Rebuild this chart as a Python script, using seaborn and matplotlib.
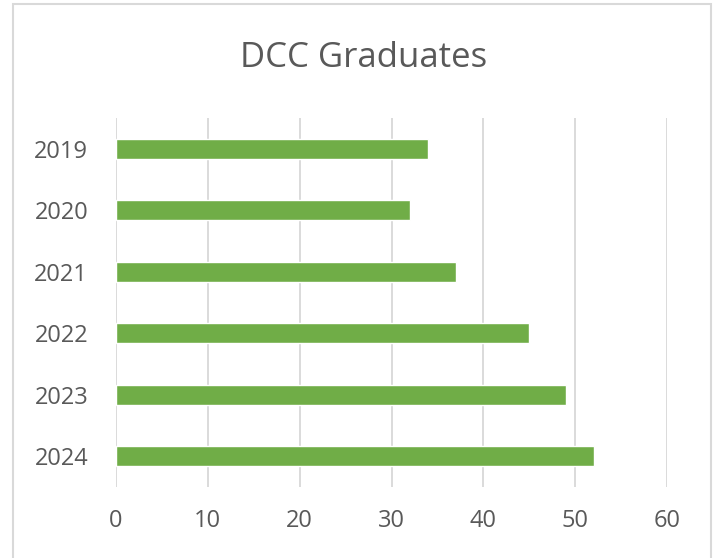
import matplotlib
matplotlib.use("Agg")
import matplotlib.pyplot as plt
import seaborn as sns
import pandas as pd
from matplotlib.patches import Rectangle

years = ["2019", "2020", "2021", "2022", "2023", "2024"]
graduates = [34, 32, 37, 45, 49, 52]
xticks = [0, 10, 20, 30, 40, 50, 60]
title = "DCC Graduates"

sns.set_theme(style="white")
plt.rcParams['font.family'] = ['Open Sans', 'DejaVu Sans']

df = pd.DataFrame({"year": years, "graduates": graduates})

fig = plt.figure(figsize=(7.17, 5.58), dpi=100)
fig.patches.append(Rectangle((13/717, -0.05), 698/717, 1.05 - 4/558, transform=fig.transFigure,
                             fill=False, edgecolor="#d9d9d9", linewidth=1.5))
ax = fig.add_axes([116/717, 1 - 487/558, (667 - 116)/717, (487 - 118)/558])

sns.barplot(data=df, x="graduates", y="year", orient="h", color="#70AD47",
            width=0.32, saturation=1, ax=ax)

ax.set_xlim(0, 60)
ax.set_ylim(5.5, -0.5)
ax.set_xticks(xticks)
ax.set_xticklabels([str(t) for t in xticks])
ax.xaxis.grid(True, color="#d4d4d4", linewidth=1.2)
ax.set_axisbelow(True)
for s in ax.spines.values():
    s.set_visible(False)
ax.set_xlabel("")
ax.set_ylabel("")
ax.tick_params(axis="both", length=0, labelsize=17, labelcolor="#595959")
ax.tick_params(axis="x", pad=16)
ax.tick_params(axis="y", pad=20)

fig.text(364/717, 1 - 58/558, title, ha="center", va="center", fontsize=25, color="#595959")

fig.savefig("out.png", dpi=100)
